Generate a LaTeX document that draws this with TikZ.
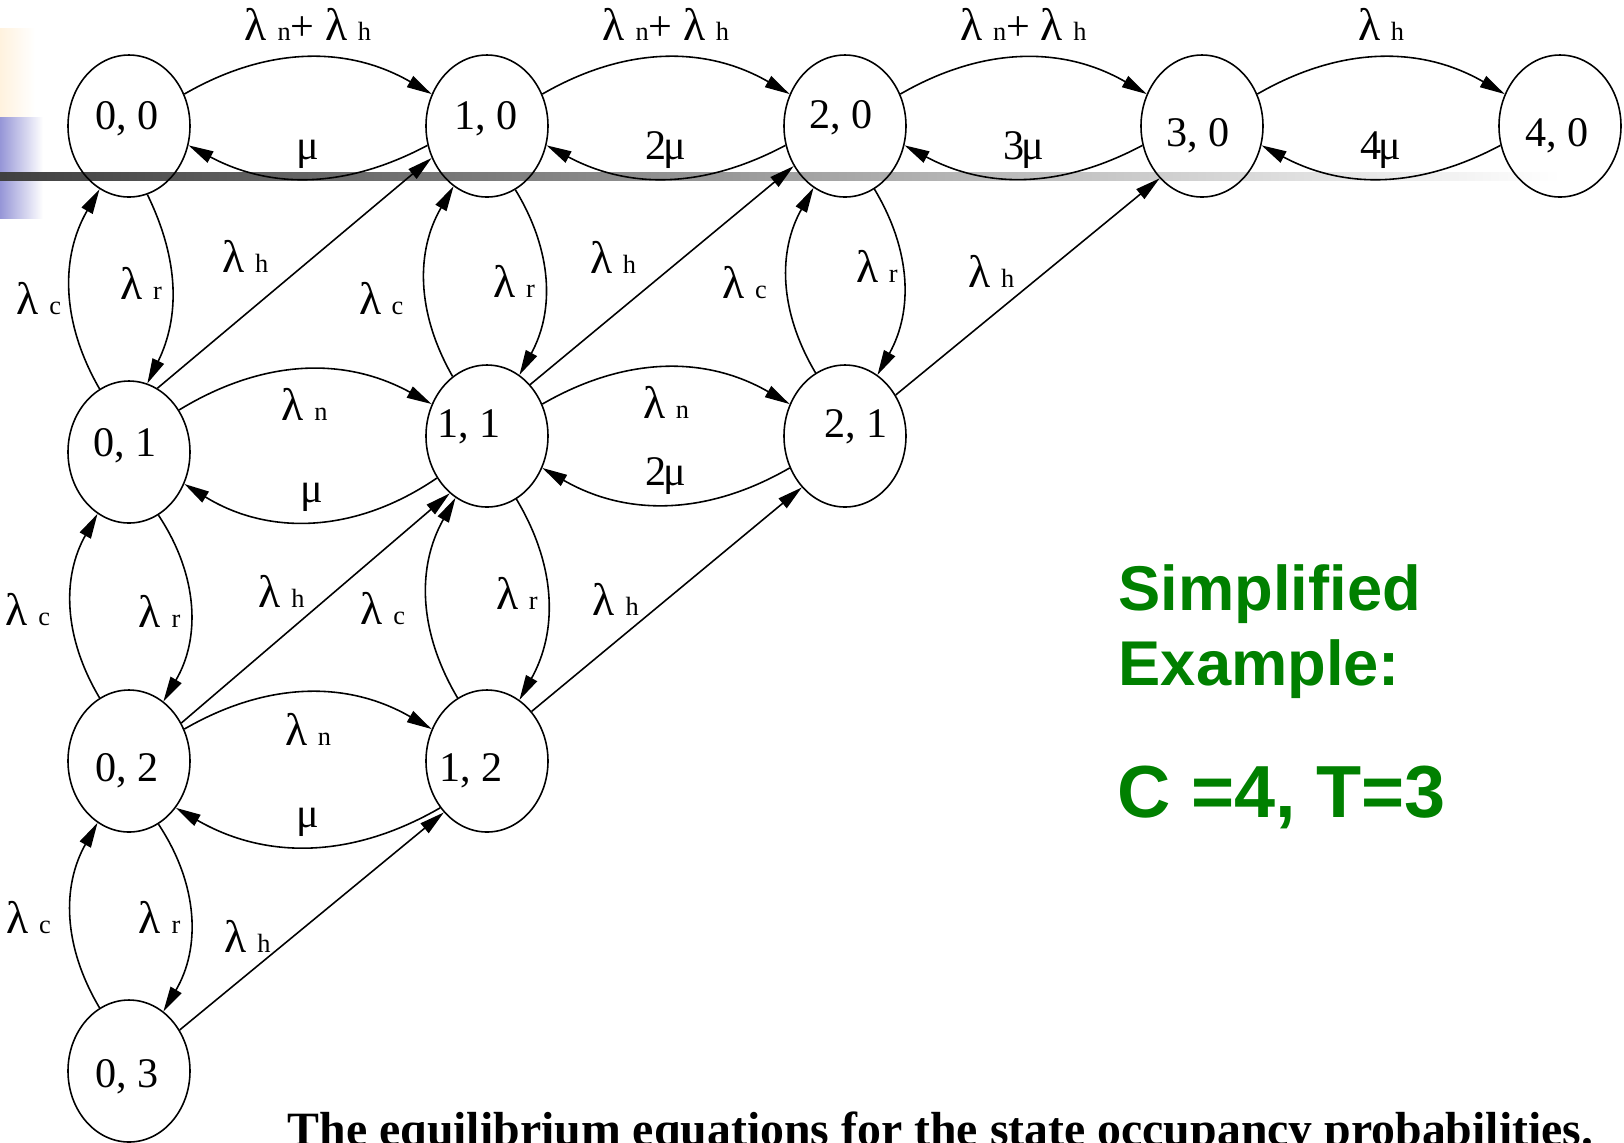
\documentclass[tikz,border=0pt]{standalone}
\usepackage{fontspec}
\setmainfont{Liberation Serif}
\newfontfamily\headfont{Liberation Sans}
\usetikzlibrary{arrows.meta,shapes.geometric}

\definecolor{headgreen}{RGB}{0,128,0}
\definecolor{slideblue}{RGB}{150,150,215}
\definecolor{slidecream}{RGB}{255,242,222}

\newcommand*{\lam}[1]{{\fontsize{13}{14}\selectfont λ}~{\fontsize{7.5}{8}\selectfont #1}}
% state text, moved by dx, dy (cm) from the centre of its ellipse
\newcommand*{\sttext}[3]{\raisebox{\dimexpr#2cm-4.1pt\relax}{\makebox[0pt]{\hspace*{#1cm}\hspace*{#1cm}#3}}}

\begin{document}
\begin{tikzpicture}
[
	statenode/.style={ellipse,draw,line width=0.45pt,minimum width=1.22cm,minimum height=1.42cm,inner sep=0pt,font=\fontsize{12}{14}\selectfont,text height=0pt,text depth=0pt},
	rate/.style={-{Triangle[length=2.5mm,width=1.25mm]},line width=0.45pt},
	lbl/.style={font=\fontsize{12}{13}\selectfont,inner sep=2.5pt},
	headtxt/.style={anchor=base west,inner sep=0pt,text=headgreen,font=\headfont\bfseries\fontsize{18}{21}\selectfont}
]
	\useasboundingbox (0,0) rectangle (16.24,-11.42);

	% slide decoration
	\shade[left color=slidecream,right color=white] (0,-0.28) rectangle (0.35,-1.17);
	\shade[left color=slideblue,right color=white] (0,-1.17) rectangle (0.43,-2.18);
	\shade[left color=black!75,right color=white] (0,-1.72) rectangle (15.6,-1.80);

	% states
	\node[statenode] (n00) at (1.29,-1.26) {\sttext{-0.02}{0.11}{0, 0}};
	\node[statenode] (n10) at (4.87,-1.26) {\sttext{-0.01}{0.11}{1, 0}};
	\node[statenode] (n20) at (8.45,-1.26) {\sttext{-0.04}{0.12}{2, 0}};
	\node[statenode] (n30) at (12.02,-1.26) {\sttext{-0.04}{-0.06}{3, 0}};
	\node[statenode] (n40) at (15.60,-1.26) {\sttext{-0.03}{-0.06}{4, 0}};
	\node[statenode] (n01) at (1.29,-4.52) {\sttext{-0.04}{0.10}{0, 1}};
	\node[statenode] (n11) at (4.87,-4.36) {\sttext{-0.18}{0.13}{1, 1}};
	\node[statenode] (n21) at (8.45,-4.36) {\sttext{0.11}{0.13}{2, 1}};
	\node[statenode] (n02) at (1.29,-7.61) {\sttext{-0.02}{-0.06}{0, 2}};
	\node[statenode] (n12) at (4.87,-7.61) {\sttext{-0.16}{-0.06}{1, 2}};
	\node[statenode] (n03) at (1.29,-10.71) {\sttext{-0.02}{-0.02}{0, 3}};

	% arrivals and departures along each row
	\draw[rate] (n00.30) to[bend left=30] node[lbl,above=0.8mm] {\lam{n}+ \lam{h}} (n10.150);
	\draw[rate] (n10.198) to[bend left=28] node[lbl,above] {μ} (n00.342);
	\draw[rate] (n10.30) to[bend left=30] node[lbl,above=0.8mm] {\lam{n}+ \lam{h}} (n20.150);
	\draw[rate] (n20.198) to[bend left=28] node[lbl,above] {2\kern-0.8ptμ} (n10.342);
	\draw[rate] (n20.30) to[bend left=30] node[lbl,above=0.8mm] {\lam{n}+ \lam{h}} (n30.150);
	\draw[rate] (n30.198) to[bend left=28] node[lbl,above] {3\kern-0.8ptμ} (n20.342);
	\draw[rate] (n30.30) to[bend left=30] node[lbl,above=0.8mm] {\lam{h}} (n40.150);
	\draw[rate] (n40.198) to[bend left=28] node[lbl,above] {4\kern-0.8ptμ} (n30.342);

	\draw[rate] (n01.40) to[bend left=30] node[lbl,below=0.9mm] {\lam{n}} (n11.150);
	\draw[rate] (n11.220) to[bend left=33] node[lbl,above] {μ} (n01.330);
	\draw[rate] (n11.30) to[bend left=30] node[lbl,below=0.9mm] {\lam{n}} (n21.150);
	\draw[rate] (n21.210) to[bend left=30] node[lbl,above] {2\kern-0.8ptμ} (n11.330);
	\draw[rate] (n02.30) to[bend left=30] node[lbl,below=1.1mm] {\lam{n}} (n12.150);
	\draw[rate] (n12.225) to[bend left=30] node[lbl,above] {μ} (n02.315);

	% channel changes within each column
	\draw[rate] (n01.115) to[bend left=30] node[lbl,left=0mm,pos=0.45] {\lam{c}} (n00.245);
	\draw[rate] (n00.285) to[bend left=26] node[lbl,left=0mm,pos=0.47] {\lam{r}} (n01.75);
	\draw[rate] (n02.115) to[bend left=30] node[lbl,left=1.2mm,pos=0.48] {\lam{c}} (n01.243);
	\draw[rate] (n01.295) to[bend left=32] node[lbl,left=0mm,pos=0.52] {\lam{r}} (n02.60);
	\draw[rate] (n03.115) to[bend left=30] node[lbl,left=1.1mm,pos=0.49] {\lam{c}} (n02.243);
	\draw[rate] (n02.295) to[bend left=32] node[lbl,left=0mm,pos=0.5] {\lam{r}} (n03.60);
	\draw[rate] (n11.120) to[bend left=30] node[lbl,left=1.3mm,pos=0.41] {\lam{c}} (n10.241);
	\draw[rate] (n10.294) to[bend left=30] node[lbl,left=0mm,pos=0.5] {\lam{r}} (n11.62);
	\draw[rate] (n12.115) to[bend left=30] node[lbl,left=1.3mm,pos=0.45] {\lam{c}} (n11.243);
	\draw[rate] (n11.295) to[bend left=30] node[lbl,left=0mm,pos=0.47] {\lam{r}} (n12.62);
	\draw[rate] (n21.115) to[bend left=30] node[lbl,left=1.1mm,pos=0.49] {\lam{c}} (n20.243);
	\draw[rate] (n20.295) to[bend left=30] node[lbl,left=-0.5mm,pos=0.42] {\lam{r}} (n21.62);

	% handoff arrivals
	\draw[rate] (n01.66) -- node[lbl,above left=0.3mm,pos=0.45] {\lam{h}} (n10.210);
	\draw[rate] (n11.50) -- node[lbl,above left=0.3mm,pos=0.45] {\lam{h}} (n20.218);
	\draw[rate] (n21.39) -- node[lbl,above left=-0.4mm,pos=0.47] {\lam{h}} (n30.231);
	\draw[rate] (n02.36) -- node[lbl,above left=-0.4mm,pos=0.48] {\lam{h}} (n11.237);
	\draw[rate] (n12.48) -- node[lbl,above left=-0.6mm,pos=0.41] {\lam{h}} (n21.230);
	\draw[rate] (n03.39) -- node[lbl,above left=-0.8mm,pos=0.35] {\lam{h}} (n12.230);

	% caption texts
	\node[headtxt] (simp) at (11.18,-6.10) {Simplified};
	\node[headtxt] (expl) at (11.18,-6.85) {Example:};
	\node[headtxt,font=\headfont\bfseries\fontsize{21}{25}\selectfont] (ctval) at (11.17,-8.17) {C =4, T=3};
	\node[anchor=base west,inner sep=0pt,font=\bfseries\fontsize{13.6}{16}\selectfont] (eqcap) at (2.87,-11.45) {The equilibrium equations for the state occupancy probabilities.};

\end{tikzpicture}
\end{document}
